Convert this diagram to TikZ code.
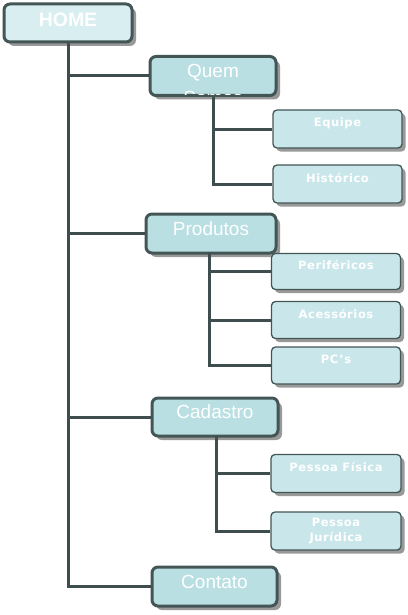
\documentclass[tikz,border=0pt]{standalone}
\usepackage{fontspec}
\usetikzlibrary{shadows}
\newfontfamily\bigfont{Liberation Sans}
\newfontfamily\homefont{Liberation Sans}
\newfontfamily\subfont[LetterSpace=5]{DejaVu Sans}
\definecolor{edge}{HTML}{435555}
\definecolor{wire}{HTML}{3E4E4E}
\definecolor{mainfill}{HTML}{B9DFE3}
\definecolor{homefill}{HTML}{D8EEF0}
\definecolor{subfill}{HTML}{C9E7EA}
\definecolor{shade}{HTML}{999999}

\begin{document}
\begin{tikzpicture}[x=1pt, y=-1pt,
    page/.style={draw=edge, line width=3pt, rounded corners=6pt, fill=mainfill,
        general shadow={fill=shade, shadow xshift=4pt, shadow yshift=-4pt},
        minimum width=126pt, minimum height=39pt, inner sep=0pt,
        text=white, font=\bigfont\fontsize{19}{26}\selectfont,
        text height=13pt, text depth=10pt},
    subpage/.style={draw=edge, line width=1.3pt, rounded corners=4pt, fill=subfill,
        general shadow={fill=shade, shadow xshift=3.5pt, shadow yshift=-3.5pt},
        minimum width=129pt, minimum height=38pt, inner sep=0pt,
        text=white, font=\subfont\bfseries\fontsize{11.5}{15}\selectfont,
        text height=8pt, text depth=12pt},
    wire/.style={draw=wire, line width=3pt}]
    \useasboundingbox (0,0) rectangle (407,615);

    % branches first, boxes cover their ends
    \coordinate (pr) at (209,253);
    \coordinate (ca) at (216,436);

    \node[page, fill=homefill, minimum width=128pt, minimum height=38pt,
        text height=13pt, text depth=5pt,
        font=\homefont\bfseries\fontsize{19.5}{22}\selectfont] (home) at (68,23) {HOME};

    \node[page] (quem) at (213,76) {};
    \begin{scope}
        \clip ([shift={(2,-2)}]quem.south west) rectangle ([shift={(-2,2)}]quem.north east);
        \node[anchor=north, inner sep=0pt, align=center, text=white,
            font=\bigfont\fontsize{19}{27}\selectfont] (quemtxt) at (213,64.5) {Quem\\Somos};
    \end{scope}
    \node[subpage] (equipe) at (337.5,129) {Equipe};
    \node[subpage] (historico) at (337.5,184) {Histórico};

    \node[page, minimum width=130pt] (produtos) at (211,233.5) {Produtos};
    \node[subpage, minimum height=36pt] (perifericos) at (336,271.5) {Periféricos};
    \node[subpage, minimum height=37pt] (acessorios) at (336,320) {Acessórios};
    \node[subpage, minimum height=37pt] (pcs) at (336,365.5) {PC’s};

    \node[page, minimum height=38pt] (cadastro) at (215,417) {Cadastro};
    \node[subpage, minimum width=130pt] (pfisica) at (336,473.5) {Pessoa Física};
    \node[subpage, minimum width=130pt, align=center, text height=, text depth=] (pjuridica) at (336,531) {Pessoa\\Jurídica};

    \node[page, minimum width=125pt] (contato) at (214.5,586.5) {Contato};

    % site tree
    \draw[wire] (home.south) |- (quem.west);
    \draw[wire] (home.south) |- (produtos.west);
    \draw[wire] (home.south) |- (cadastro.west);
    \draw[wire] (home.south) |- (contato.west);

    \draw[wire] (quem.south) |- (equipe.west);
    \draw[wire] (quem.south) |- (historico.west);

    \draw[wire] (pr) |- (perifericos.west);
    \draw[wire] (pr) |- (acessorios.west);
    \draw[wire] (pr) |- (pcs.west);

    \draw[wire] (ca) |- (pfisica.west);
    \draw[wire] (ca) |- (pjuridica.west);
\end{tikzpicture}
\end{document}
